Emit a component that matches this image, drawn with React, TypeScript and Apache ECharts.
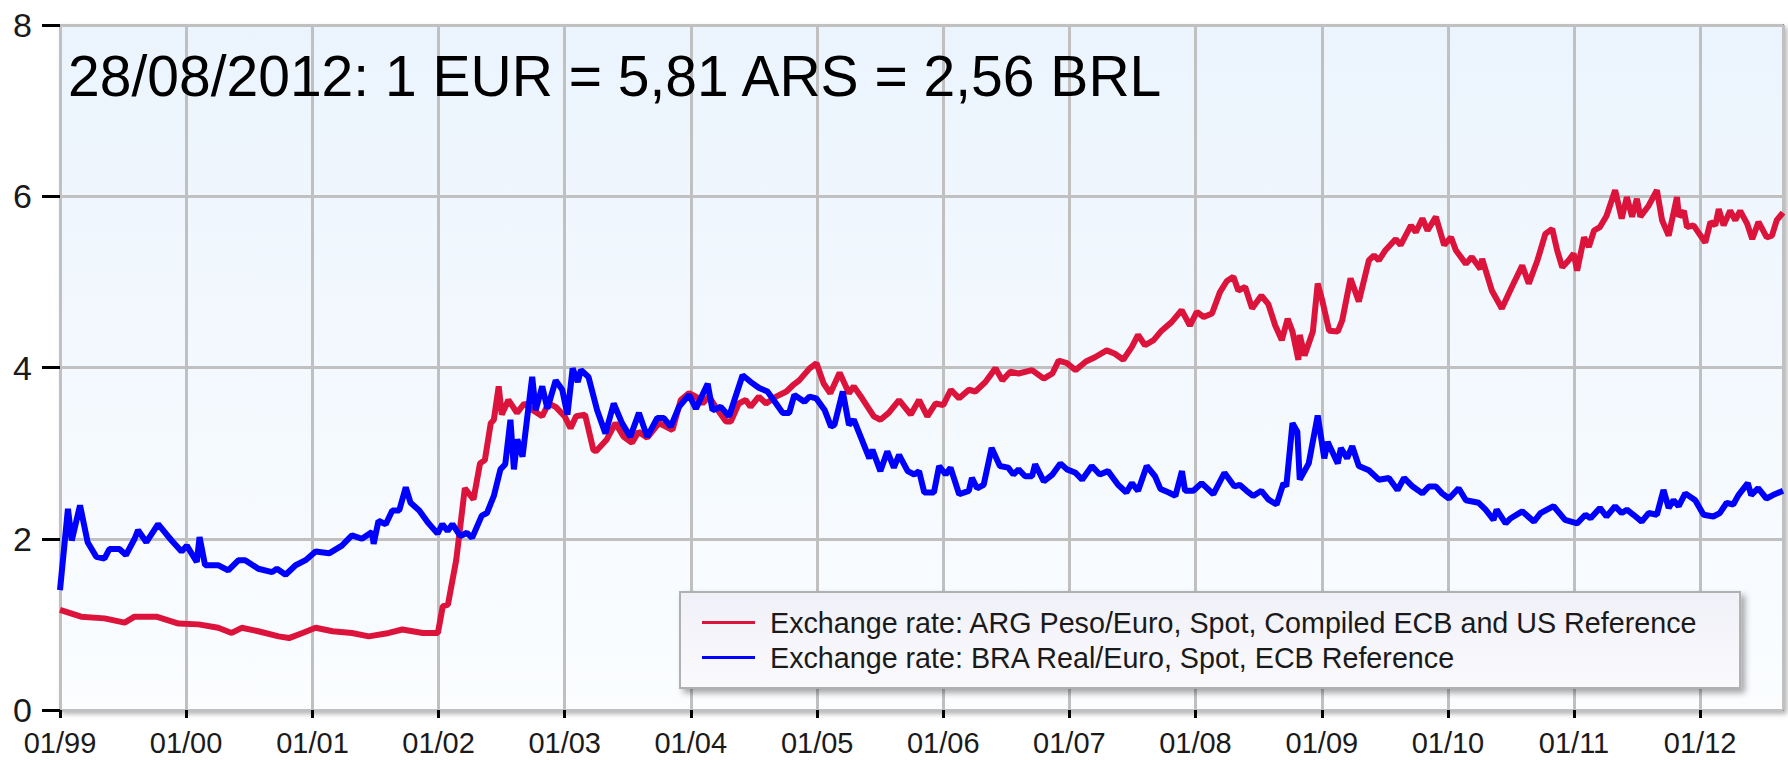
import React, { useEffect, useRef } from "react";
import * as echarts from "echarts";

const titleText = "28/08/2012: 1 EUR = 5,81 ARS = 2,56 BRL";
const arsName = "Exchange rate: ARG Peso/Euro, Spot, Compiled ECB and US Reference";
const brlName = "Exchange rate: BRA Real/Euro, Spot, ECB Reference";
const xMin = "1999-01-01";
const xMax = "2012-08-28";
const yTicks = [0, 2, 4, 6, 8];

const arsPoints: [string, number][] = [
  ["1999-01-01", 1.17], ["1999-03-03", 1.09], ["1999-05-10", 1.07], ["1999-07-07", 1.02], ["1999-08-05", 1.09],
  ["1999-10-07", 1.09], ["1999-12-10", 1.01], ["2000-02-06", 1.0], ["2000-04-03", 0.96], ["2000-05-12", 0.9],
  ["2000-06-10", 0.96], ["2000-07-28", 0.92], ["2000-09-25", 0.86], ["2000-10-25", 0.84], ["2000-12-03", 0.9],
  ["2001-01-10", 0.96], ["2001-02-28", 0.92], ["2001-04-25", 0.9], ["2001-06-13", 0.86], ["2001-08-10", 0.9],
  ["2001-09-18", 0.94], ["2001-11-16", 0.9], ["2001-12-30", 0.9], ["2002-01-13", 1.21], ["2002-01-28", 1.23],
  ["2002-02-21", 1.75], ["2002-03-18", 2.59], ["2002-04-12", 2.46], ["2002-05-01", 2.88], ["2002-05-15", 2.92],
  ["2002-06-01", 3.35], ["2002-06-10", 3.39], ["2002-06-24", 3.78], ["2002-07-03", 3.45], ["2002-07-22", 3.62],
  ["2002-08-16", 3.47], ["2002-09-06", 3.58], ["2002-10-01", 3.5], ["2002-10-28", 3.43], ["2002-11-15", 3.58],
  ["2002-12-06", 3.54], ["2003-01-01", 3.43], ["2003-01-18", 3.29], ["2003-02-03", 3.43], ["2003-03-01", 3.45],
  ["2003-03-25", 3.04], ["2003-04-01", 3.02], ["2003-05-03", 3.16], ["2003-05-28", 3.35], ["2003-06-21", 3.19],
  ["2003-07-15", 3.12], ["2003-08-03", 3.25], ["2003-08-28", 3.18], ["2003-10-01", 3.35], ["2003-11-09", 3.27],
  ["2003-12-03", 3.62], ["2003-12-27", 3.7], ["2004-01-16", 3.66], ["2004-02-04", 3.58], ["2004-02-23", 3.66],
  ["2004-03-13", 3.54], ["2004-04-12", 3.37], ["2004-04-26", 3.37], ["2004-05-19", 3.58], ["2004-06-08", 3.62],
  ["2004-06-22", 3.54], ["2004-07-16", 3.66], ["2004-08-06", 3.58], ["2004-09-04", 3.66], ["2004-10-04", 3.72],
  ["2004-10-22", 3.79], ["2004-11-10", 3.85], ["2004-12-10", 3.99], ["2004-12-30", 4.05], ["2005-01-20", 3.81],
  ["2005-02-08", 3.7], ["2005-03-07", 3.94], ["2005-04-03", 3.7], ["2005-04-17", 3.78], ["2005-05-11", 3.64],
  ["2005-06-14", 3.43], ["2005-07-03", 3.39], ["2005-07-27", 3.47], ["2005-08-26", 3.62], ["2005-09-29", 3.45],
  ["2005-10-23", 3.62], ["2005-11-16", 3.43], ["2005-12-10", 3.58], ["2006-01-01", 3.56], ["2006-01-23", 3.74],
  ["2006-02-16", 3.64], ["2006-03-16", 3.74], ["2006-04-04", 3.72], ["2006-05-03", 3.83], ["2006-06-01", 3.99],
  ["2006-06-21", 3.85], ["2006-07-14", 3.95], ["2006-08-07", 3.93], ["2006-09-15", 3.97], ["2006-10-19", 3.87],
  ["2006-11-13", 3.93], ["2006-12-01", 4.08], ["2006-12-25", 4.05], ["2007-01-19", 3.97], ["2007-02-18", 4.07],
  ["2007-03-16", 4.12], ["2007-04-19", 4.2], ["2007-05-13", 4.16], ["2007-06-06", 4.09], ["2007-07-01", 4.24],
  ["2007-07-19", 4.38], ["2007-08-08", 4.26], ["2007-09-02", 4.32], ["2007-09-25", 4.43], ["2007-10-24", 4.53],
  ["2007-11-22", 4.67], ["2007-12-16", 4.49], ["2008-01-05", 4.65], ["2008-01-25", 4.59], ["2008-02-18", 4.63],
  ["2008-03-12", 4.88], ["2008-04-01", 5.01], ["2008-04-20", 5.06], ["2008-05-04", 4.9], ["2008-05-24", 4.94],
  ["2008-06-13", 4.69], ["2008-07-10", 4.84], ["2008-07-30", 4.74], ["2008-08-19", 4.49], ["2008-09-07", 4.32],
  ["2008-09-24", 4.57], ["2008-10-08", 4.42], ["2008-10-25", 4.09], ["2008-10-29", 4.38], ["2008-11-12", 4.14],
  ["2008-12-06", 4.42], ["2008-12-20", 4.98], ["2009-01-03", 4.77], ["2009-01-22", 4.43], ["2009-02-16", 4.42],
  ["2009-03-01", 4.55], ["2009-03-25", 5.04], ["2009-04-18", 4.77], ["2009-05-17", 5.25], ["2009-06-01", 5.31],
  ["2009-06-15", 5.25], ["2009-07-04", 5.37], ["2009-08-03", 5.5], ["2009-08-17", 5.43], ["2009-09-16", 5.66],
  ["2009-09-30", 5.58], ["2009-10-19", 5.74], ["2009-11-03", 5.6], ["2009-11-27", 5.76], ["2009-12-21", 5.43],
  ["2010-01-10", 5.52], ["2010-01-24", 5.37], ["2010-02-22", 5.21], ["2010-03-11", 5.29], ["2010-04-05", 5.15],
  ["2010-04-10", 5.27], ["2010-05-08", 4.9], ["2010-06-06", 4.69], ["2010-07-05", 4.94], ["2010-08-04", 5.19],
  ["2010-08-23", 4.98], ["2010-09-17", 5.25], ["2010-10-10", 5.56], ["2010-10-30", 5.62], ["2010-11-13", 5.37],
  ["2010-11-28", 5.17], ["2010-12-16", 5.25], ["2010-12-31", 5.33], ["2011-01-10", 5.13], ["2011-01-30", 5.52],
  ["2011-02-13", 5.41], ["2011-02-28", 5.6], ["2011-03-17", 5.64], ["2011-04-05", 5.77], ["2011-04-30", 6.07],
  ["2011-05-19", 5.74], ["2011-06-03", 5.99], ["2011-06-18", 5.76], ["2011-07-02", 5.97], ["2011-07-12", 5.76],
  ["2011-08-05", 5.89], ["2011-08-29", 6.07], ["2011-09-13", 5.72], ["2011-10-02", 5.54], ["2011-10-26", 5.99],
  ["2011-11-01", 5.76], ["2011-11-15", 5.83], ["2011-11-24", 5.64], ["2011-12-13", 5.66], ["2012-01-16", 5.46],
  ["2012-01-31", 5.7], ["2012-02-14", 5.66], ["2012-02-24", 5.85], ["2012-03-09", 5.66], ["2012-03-28", 5.83],
  ["2012-04-12", 5.72], ["2012-04-26", 5.83], ["2012-05-16", 5.68], ["2012-05-31", 5.5], ["2012-06-18", 5.7],
  ["2012-07-12", 5.52], ["2012-07-27", 5.54], ["2012-08-10", 5.72], ["2012-08-28", 5.81],
];

const brlPoints: [string, number][] = [
  ["1999-01-01", 1.4], ["1999-01-24", 2.35], ["1999-02-04", 1.98], ["1999-02-28", 2.39], ["1999-03-22", 1.96],
  ["1999-04-16", 1.79], ["1999-05-10", 1.77], ["1999-05-24", 1.88], ["1999-06-22", 1.88], ["1999-07-11", 1.81],
  ["1999-08-05", 2.0], ["1999-08-15", 2.1], ["1999-09-08", 1.96], ["1999-10-12", 2.17], ["1999-11-20", 1.98],
  ["1999-12-19", 1.85], ["2000-01-03", 1.92], ["2000-02-01", 1.73], ["2000-02-09", 2.02], ["2000-02-25", 1.69],
  ["2000-04-04", 1.69], ["2000-05-02", 1.63], ["2000-06-01", 1.75], ["2000-06-20", 1.75], ["2000-07-28", 1.65],
  ["2000-09-06", 1.61], ["2000-09-20", 1.65], ["2000-10-15", 1.58], ["2000-11-13", 1.69], ["2000-12-12", 1.75],
  ["2001-01-10", 1.85], ["2001-02-18", 1.83], ["2001-03-27", 1.92], ["2001-04-25", 2.04], ["2001-05-24", 2.0],
  ["2001-06-22", 2.08], ["2001-06-27", 1.94], ["2001-07-11", 2.21], ["2001-08-01", 2.17], ["2001-08-20", 2.33],
  ["2001-09-09", 2.33], ["2001-09-28", 2.6], ["2001-10-12", 2.42], ["2001-11-06", 2.33], ["2001-12-01", 2.19],
  ["2001-12-29", 2.06], ["2002-01-12", 2.17], ["2002-01-27", 2.09], ["2002-02-10", 2.17], ["2002-03-05", 2.03],
  ["2002-03-24", 2.07], ["2002-04-08", 2.01], ["2002-05-06", 2.27], ["2002-05-21", 2.3], ["2002-06-10", 2.5],
  ["2002-06-29", 2.81], ["2002-07-13", 2.87], ["2002-07-28", 3.39], ["2002-08-07", 2.81], ["2002-08-17", 3.16],
  ["2002-09-01", 2.96], ["2002-09-15", 3.43], ["2002-09-29", 3.89], ["2002-10-09", 3.5], ["2002-10-28", 3.78],
  ["2002-11-12", 3.52], ["2002-12-06", 3.85], ["2002-12-25", 3.74], ["2003-01-09", 3.45], ["2003-01-24", 3.99],
  ["2003-02-08", 3.83], ["2003-02-17", 3.97], ["2003-03-11", 3.89], ["2003-04-05", 3.5], ["2003-04-29", 3.23],
  ["2003-05-23", 3.58], ["2003-06-16", 3.35], ["2003-07-10", 3.19], ["2003-08-04", 3.47], ["2003-08-28", 3.19],
  ["2003-09-26", 3.41], ["2003-10-15", 3.41], ["2003-11-04", 3.31], ["2003-11-28", 3.54], ["2003-12-27", 3.68],
  ["2004-01-16", 3.52], ["2004-02-19", 3.81], ["2004-03-04", 3.5], ["2004-03-28", 3.54], ["2004-04-21", 3.43],
  ["2004-05-30", 3.91], ["2004-06-23", 3.83], ["2004-07-17", 3.76], ["2004-08-10", 3.72], ["2004-09-04", 3.58],
  ["2004-09-23", 3.47], ["2004-10-12", 3.47], ["2004-10-27", 3.68], ["2004-11-25", 3.6], ["2004-12-10", 3.66],
  ["2004-12-29", 3.64], ["2005-01-23", 3.5], ["2005-02-10", 3.31], ["2005-02-20", 3.33], ["2005-03-16", 3.72],
  ["2005-04-03", 3.33], ["2005-04-17", 3.39], ["2005-05-07", 3.19], ["2005-06-01", 2.94], ["2005-06-10", 3.04],
  ["2005-07-03", 2.79], ["2005-07-23", 3.02], ["2005-08-11", 2.83], ["2005-08-26", 2.98], ["2005-09-20", 2.79],
  ["2005-10-09", 2.75], ["2005-10-23", 2.79], ["2005-11-07", 2.54], ["2005-12-05", 2.54], ["2005-12-20", 2.85],
  ["2006-01-08", 2.75], ["2006-01-22", 2.83], ["2006-02-16", 2.52], ["2006-03-16", 2.56], ["2006-03-25", 2.71],
  ["2006-04-09", 2.59], ["2006-04-28", 2.63], ["2006-05-21", 3.06], ["2006-06-14", 2.85], ["2006-07-08", 2.83],
  ["2006-07-23", 2.75], ["2006-08-07", 2.81], ["2006-08-26", 2.73], ["2006-09-15", 2.73], ["2006-09-24", 2.87],
  ["2006-10-19", 2.67], ["2006-11-13", 2.75], ["2006-12-06", 2.88], ["2006-12-25", 2.81], ["2007-01-19", 2.77],
  ["2007-02-07", 2.69], ["2007-03-07", 2.85], ["2007-03-30", 2.75], ["2007-04-23", 2.79], ["2007-05-22", 2.63],
  ["2007-06-15", 2.54], ["2007-07-01", 2.65], ["2007-07-19", 2.56], ["2007-08-13", 2.85], ["2007-09-06", 2.73],
  ["2007-09-22", 2.58], ["2007-10-16", 2.54], ["2007-11-04", 2.5], ["2007-11-23", 2.79], ["2007-12-02", 2.56],
  ["2007-12-26", 2.56], ["2008-01-19", 2.65], ["2008-02-22", 2.52], ["2008-03-25", 2.77], ["2008-04-23", 2.61],
  ["2008-05-08", 2.63], ["2008-05-28", 2.56], ["2008-06-16", 2.5], ["2008-07-10", 2.56], ["2008-07-30", 2.46],
  ["2008-08-23", 2.4], ["2008-09-12", 2.65], ["2008-09-20", 2.61], ["2008-10-08", 3.35], ["2008-10-22", 3.25],
  ["2008-10-29", 2.69], ["2008-11-24", 2.88], ["2008-12-20", 3.44], ["2009-01-08", 2.94], ["2009-01-18", 3.13],
  ["2009-02-16", 2.88], ["2009-02-25", 3.06], ["2009-03-15", 2.94], ["2009-03-30", 3.08], ["2009-04-18", 2.85],
  ["2009-05-17", 2.8], ["2009-06-15", 2.69], ["2009-07-14", 2.71], ["2009-08-08", 2.57], ["2009-08-27", 2.71],
  ["2009-09-21", 2.61], ["2009-10-19", 2.53], ["2009-11-07", 2.61], ["2009-11-27", 2.61], ["2009-12-15", 2.53],
  ["2010-01-04", 2.47], ["2010-02-01", 2.59], ["2010-02-22", 2.45], ["2010-03-31", 2.42], ["2010-04-20", 2.34],
  ["2010-05-13", 2.22], ["2010-05-22", 2.34], ["2010-06-17", 2.18], ["2010-07-02", 2.24], ["2010-08-04", 2.32],
  ["2010-09-07", 2.2], ["2010-09-26", 2.3], ["2010-11-03", 2.38], ["2010-12-06", 2.22], ["2011-01-10", 2.18],
  ["2011-02-03", 2.28], ["2011-02-18", 2.24], ["2011-03-17", 2.36], ["2011-04-05", 2.26], ["2011-04-30", 2.38],
  ["2011-05-19", 2.3], ["2011-06-03", 2.34], ["2011-06-22", 2.28], ["2011-07-16", 2.2], ["2011-08-05", 2.3],
  ["2011-08-29", 2.28], ["2011-09-17", 2.57], ["2011-10-02", 2.36], ["2011-10-16", 2.45], ["2011-10-31", 2.38],
  ["2011-11-19", 2.53], ["2011-12-18", 2.45], ["2012-01-11", 2.28], ["2012-02-08", 2.26], ["2012-02-27", 2.3],
  ["2012-03-18", 2.42], ["2012-04-06", 2.4], ["2012-04-21", 2.51], ["2012-05-18", 2.65], ["2012-05-28", 2.51],
  ["2012-06-17", 2.59], ["2012-07-11", 2.47], ["2012-07-30", 2.51], ["2012-08-28", 2.56],
];

const FONT = "Liberation Sans, Arial, Helvetica, sans-serif";
const DAY = 24 * 3600 * 1000;

export default function App() {
  const ref = useRef<HTMLDivElement>(null);
  useEffect(() => {
    if (!ref.current) return;
    const chart = echarts.init(ref.current, null, { renderer: "svg" });
    const axisShadow = {
      shadowColor: "rgba(0,0,0,0.35)",
      shadowBlur: 6,
      shadowOffsetX: 4,
      shadowOffsetY: 4,
    };
    chart.setOption({
      animation: false,
      backgroundColor: "#ffffff",
      textStyle: { fontFamily: FONT },
      grid: {
        left: 60,
        right: 5,
        top: 25,
        bottom: 50,
        show: true,
        backgroundColor: new echarts.graphic.LinearGradient(0, 0, 0, 1, [
          { offset: 0, color: "#ebf4fd" },
          { offset: 1, color: "#fbfdff" },
        ]),
        borderColor: "#8a8a8a",
        borderWidth: 2,
        shadowColor: "rgba(0,0,0,0.3)",
        shadowBlur: 5,
        shadowOffsetX: 3,
        shadowOffsetY: 3,
      },
      legend: {
        orient: "vertical",
        left: 680,
        top: 592,
        padding: [16, 42, 16, 22],
        itemWidth: 53,
        itemHeight: 3,
        itemGap: 6,
        icon: "rect",
        backgroundColor: new echarts.graphic.LinearGradient(0, 0, 0, 1, [
          { offset: 0, color: "#f0f0f8" },
          { offset: 1, color: "#fafafd" },
        ]),
        borderColor: "#b0b0b0",
        borderWidth: 2,
        shadowColor: "rgba(0,0,0,0.35)",
        shadowBlur: 6,
        shadowOffsetX: 4,
        shadowOffsetY: 4,
        textStyle: { fontSize: 28.7, fontFamily: FONT, color: "#1a1a1a", padding: [0, 0, 0, 10] },
        data: [arsName, brlName],
      },
      graphic: [
        {
          type: "text",
          x: 68,
          y: 76,
          z: 100,
          style: {
            text: titleText,
            fontSize: 57,
            fontFamily: FONT,
            fill: "#000",
            verticalAlign: "middle",
          },
        },
      ],
      xAxis: {
        type: "time",
        min: xMin,
        max: xMax,
        minInterval: 365 * DAY,
        maxInterval: 366 * DAY,
        axisLine: { show: true, lineStyle: { color: "#000", width: 4, ...axisShadow } },
        axisTick: { show: true, length: 8, lineStyle: { color: "#000", width: 3 } },
        axisLabel: {
          fontSize: 29,
          fontFamily: FONT,
          color: "#1a1a1a",
          margin: 18,
          formatter: (v: number) => {
            const d = new Date(v);
            return "01/" + String(d.getFullYear()).slice(2);
          },
        },
        splitLine: { show: true, lineStyle: { color: "#c0c0c0", width: 3 } },
      },
      yAxis: {
        type: "value",
        min: yTicks[0],
        max: yTicks[yTicks.length - 1],
        interval: 2,
        axisLine: { show: true, lineStyle: { color: "#000", width: 4, ...axisShadow } },
        axisTick: { show: true, length: 18, lineStyle: { color: "#000", width: 3 } },
        axisLabel: { fontSize: 34, fontFamily: FONT, color: "#1a1a1a", margin: 28 },
        splitLine: { show: true, lineStyle: { color: "#c0c0c0", width: 3 } },
      },
      series: [
        {
          name: arsName,
          type: "line",
          data: arsPoints,
          showSymbol: false,
          color: "#dc143c",
          lineStyle: { color: "#dc143c", width: 6 },
        },
        {
          name: brlName,
          type: "line",
          data: brlPoints,
          showSymbol: false,
          color: "#0000ff",
          lineStyle: { color: "#0000ff", width: 6 },
        },
      ],
    });
    return () => chart.dispose();
  }, []);
  return (
    <div
      ref={ref}
      style={{ position: "absolute", left: 0, top: 0, width: 1788, height: 760 }}
    />
  );
}
